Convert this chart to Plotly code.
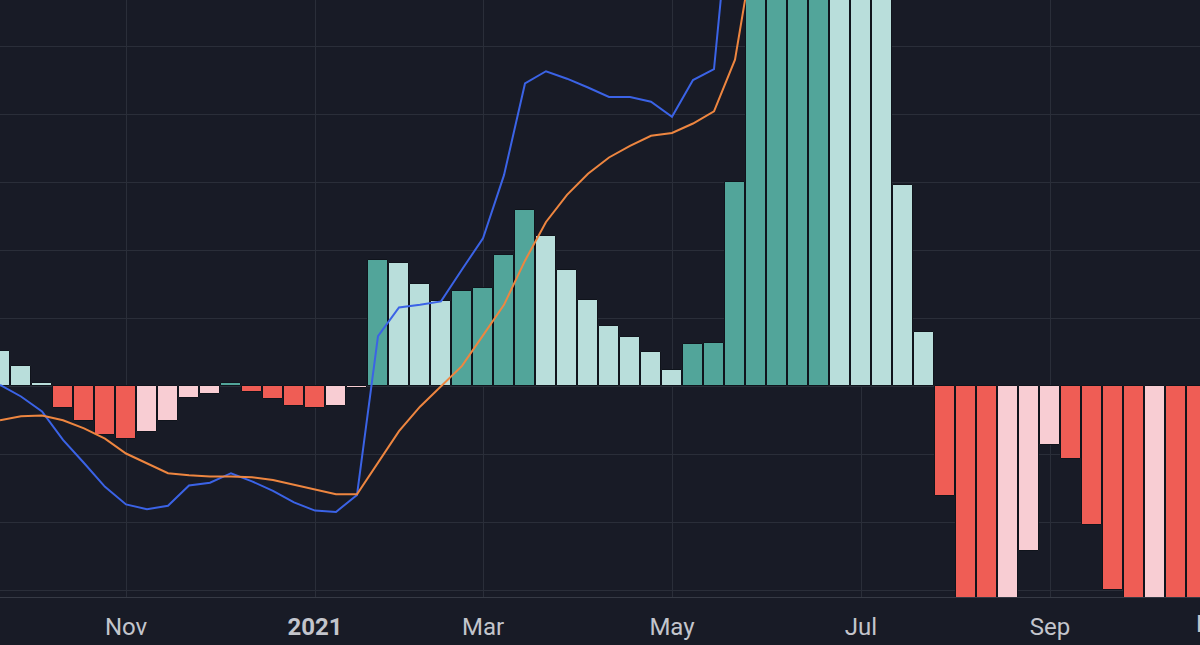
import pandas as pd
import plotly.graph_objects as go

# weekly MACD, values (one grid step = 1.0)
hist = [0.52, 0.30, 0.044, -0.315, -0.515, -0.72, -0.776, -0.68, -0.506, -0.177,
        -0.108, 0.044, -0.08, -0.18, -0.285, -0.325, -0.285, -0.03, 1.86, 1.82,
        1.50, 1.25, 1.41, 1.45, 1.93, 2.59, 2.22, 1.71, 1.27, 0.89,
        0.72, 0.51, 0.24, 0.62, 0.64, 3.01, 6.0, 6.8, 7.5, 8.0,
        7.6, 7.0, 6.2, 2.97, 0.80, -1.61, -3.6, -4.0, -3.5, -2.43,
        -0.87, -1.07, -2.04, -3.0, -3.4, -3.2, -3.5, -3.9]
macd = [0.02, -0.15, -0.37, -0.79, -1.13, -1.48, -1.74, -1.81, -1.76, -1.46,
        -1.42, -1.28, -1.40, -1.54, -1.71, -1.83, -1.85, -1.60, 0.74, 1.16,
        1.20, 1.25, 1.72, 2.18, 3.11, 4.46, 4.64, 4.53, 4.40, 4.26,
        4.26, 4.19, 3.97, 4.51, 4.67, 7.86, 12.65]
signal = [-0.50, -0.44, -0.43, -0.50, -0.62, -0.77, -0.99, -1.14, -1.28, -1.31,
          -1.33, -1.33, -1.34, -1.38, -1.45, -1.53, -1.59, -1.59, -1.12, -0.66,
          -0.30, 0.0, 0.30, 0.75, 1.20, 1.85, 2.42, 2.82, 3.13, 3.37,
          3.54, 3.69, 3.73, 3.87, 4.05, 4.81, 6.65]

weeks = pd.date_range("2020-09-21", periods=len(hist), freq="W-MON")
tick_dates = ["2020-11-02", "2021-01-04", "2021-03-01", "2021-05-03",
              "2021-07-05", "2021-09-06"]
tick_text = ["Nov", "<b>2021</b>", "Mar", "May", "Jul", "Sep"]
x_range = ["2020-09-21", "2021-10-26"]
last_tick = "2021-11-01"   # label that sits half outside the right border

BG = "#181b26"
GRID = "#2a2e39"
TEXT = "#c3c5cc"

# tradingview style colouring: rising / falling on each side of zero
colors = []
prev = None
for v in hist:
    if v >= 0:
        colors.append("#52a59a" if prev is not None and v > prev else "#b9dedb")
    else:
        colors.append("#ef5d55" if prev is None or v < prev else "#f8cdd3")
    prev = v

fig = go.Figure()
fig.add_trace(go.Bar(x=weeks, y=hist, marker_color=colors,
                     marker_line=dict(color="#10141c", width=1),
                     width=7 * 24 * 3600 * 1000 * 0.97))
fig.add_trace(go.Scatter(x=weeks[:len(macd)], y=macd, mode="lines",
                         line=dict(color="#3b63e6", width=2)))
fig.add_trace(go.Scatter(x=weeks[:len(signal)], y=signal, mode="lines",
                         line=dict(color="#ee8640", width=2)))

# axis hides ticks outside its range, so place that one on paper coords
t0, t1 = pd.Timestamp(x_range[0]), pd.Timestamp(x_range[1])
frac = (pd.Timestamp(last_tick) - t0) / (t1 - t0)
fig.add_annotation(x=frac, xref="paper", xanchor="center",
                   y=0, yref="paper", yanchor="top", yshift=-11,
                   text="Nov", showarrow=False,
                   font=dict(family="Roboto", size=24, color=TEXT))

fig.update_layout(
    width=1200, height=645,
    margin=dict(l=0, r=0, t=0, b=48),
    paper_bgcolor=BG, plot_bgcolor=BG,
    showlegend=False, bargap=0,
    xaxis=dict(type="date", range=x_range,
               tickvals=tick_dates, ticktext=tick_text,
               ticks="outside", ticklen=8, tickcolor=BG,
               tickfont=dict(family="Roboto", size=24, color=TEXT),
               showgrid=True, gridcolor=GRID, gridwidth=1,
               showline=True, linecolor="#363a45", linewidth=1,
               zeroline=False, fixedrange=True),
    yaxis=dict(range=[-3.103, 5.689], dtick=1, showticklabels=False,
               showgrid=True, gridcolor=GRID, gridwidth=1,
               zeroline=True, zerolinecolor=GRID, zerolinewidth=1,
               fixedrange=True),
)

fig.write_html("out.html", config={"displayModeBar": False},
               post_script="document.body.style.margin='0';"
                           "document.body.style.overflow='hidden';")
